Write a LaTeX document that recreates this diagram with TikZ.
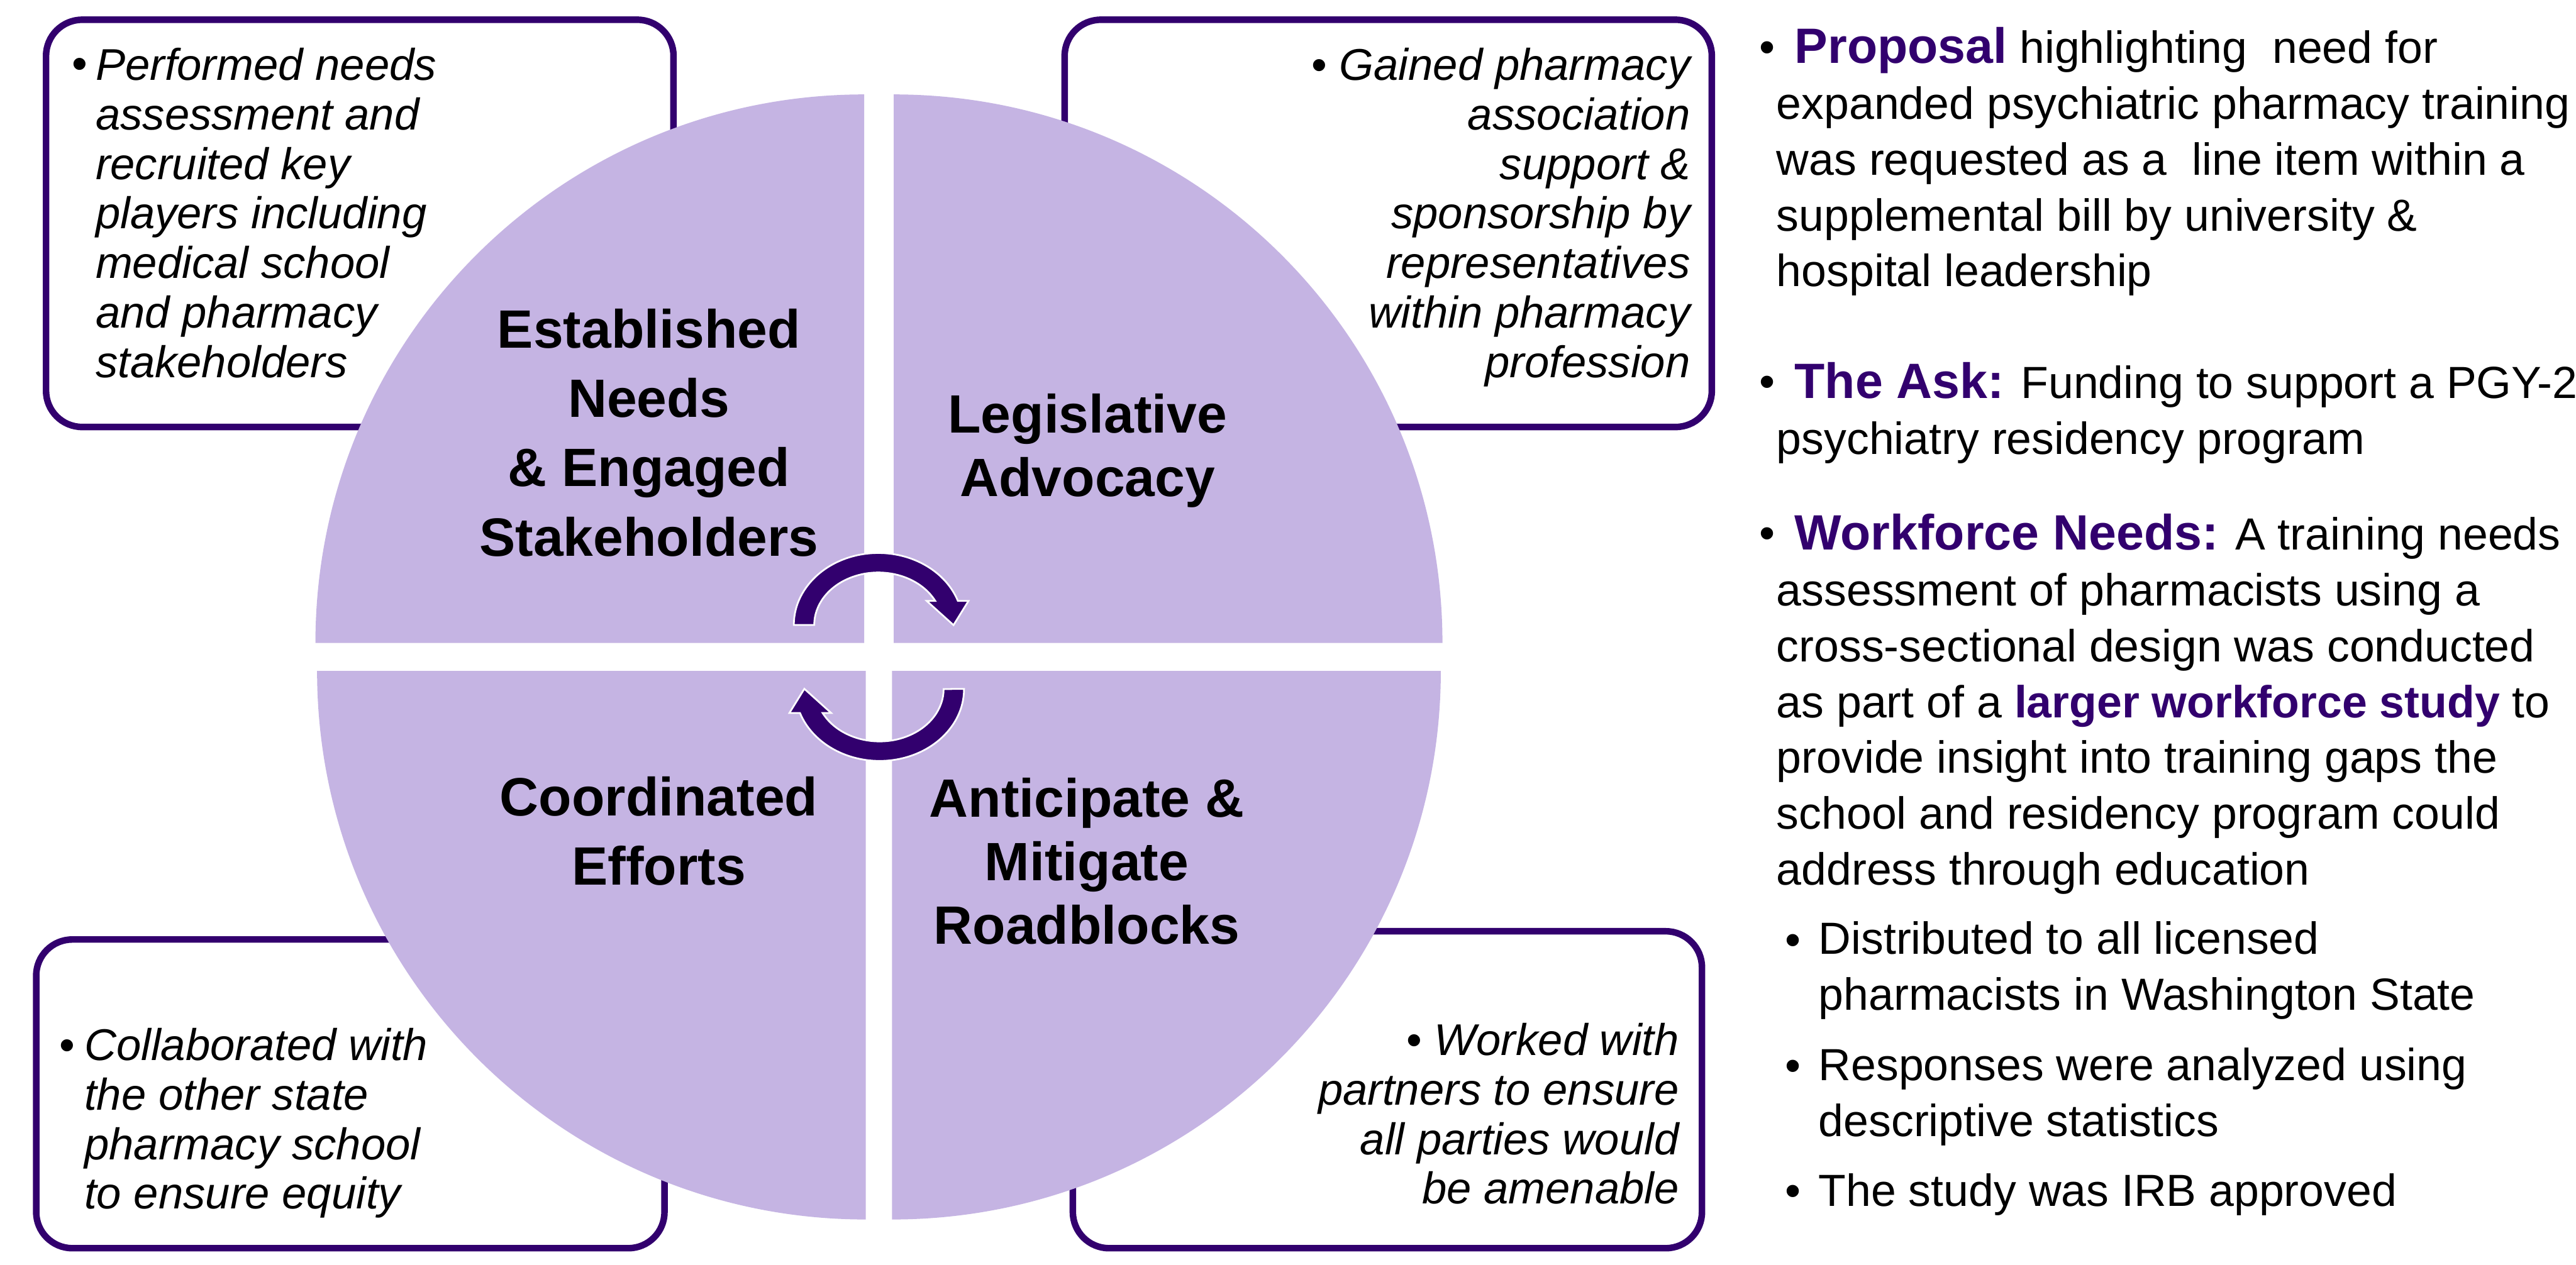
\documentclass[tikz,border=0pt]{standalone}
\usepackage{fontspec}
\setmainfont{Liberation Sans}
\definecolor{lavender}{HTML}{C5B4E3}
\definecolor{deeppurple}{HTML}{32006E}
% bold purple lead-in words of the right-hand notes
\newcommand{\leadword}[1]{\textcolor{deeppurple}{\fontsize{17.2}{19.3}\selectfont\bfseries #1}}
\newcommand{\keyphrase}[1]{\textcolor{deeppurple}{\bfseries #1}}
% keep line spacing fixed to the baselineskip
\newcommand{\tightlines}{\lineskiplimit=-30pt\relax\lineskip=0pt\relax}
\begin{document}
% multi-line nodes are placed by the baseline of their last line
\begin{tikzpicture}[x=0.02cm, y=-0.02cm,
  every node/.style={inner sep=0pt, outer sep=0pt},
  notebox/.style={draw=deeppurple, fill=white, line width=2.27pt, rounded corners=0.44cm},
  quadrant/.style={fill=lavender},
  cyclearrow/.style={fill=deeppurple, draw=white, line width=0.6pt, line join=miter},
  phase/.style={align=center, anchor=base, font=\fontsize{18.7}{24.04}\selectfont\bfseries\tightlines},
  phasetight/.style={phase, font=\fontsize{18.7}{21.94}\selectfont\bfseries\tightlines},
  notetext/.style={font=\fontsize{15.4}{17.15}\selectfont\itshape\tightlines},
  bodytext/.style={align=left, anchor=base west, font=\fontsize{15.6}{19.33}\selectfont\tightlines},
  dot/.style={anchor=base west, font=\fontsize{15.6}{19.33}\selectfont}
]
\useasboundingbox (0,0) rectangle (1568,770);
\fill[white] (0,0) rectangle (1568,770);

% note boxes behind the wheel
\node[notebox, minimum width=7.64cm, minimum height=4.96cm] (boxtl) at (219,136) {};
\node[notebox, minimum width=7.88cm, minimum height=4.96cm] (boxtr) at (845,136) {};
\node[notebox, minimum width=7.65cm, minimum height=3.76cm] (boxbl) at (213.25,666) {};
\node[notebox, minimum width=7.66cm, minimum height=3.86cm] (boxbr) at (844.5,663.5) {};

% the four quarters of the wheel
\fill[quadrant] (526,391.5) -- (192,391.5) arc[start angle=180, end angle=270, radius=334] -- cycle;
\fill[quadrant] (544,391.5) -- (544,57.5) arc[start angle=270, end angle=360, radius=334] -- cycle;
\fill[quadrant] (527,408.5) -- (527,742.5) arc[start angle=90, end angle=180, radius=334] -- cycle;
\fill[quadrant] (543,408.5) -- (877,408.5) arc[start angle=0, end angle=90, radius=334] -- cycle;

% quarter titles
\node[phase] (established) at (395,338.5) {Established\\Needs\\\& Engaged\\Stakeholders};
\node[phasetight] (legislative) at (662,302.3) {Legislative\\Advocacy};
\node[phase] (coordinated) at (401,538.9) {Coordinated\\Efforts};
\node[phasetight] (anticipate) at (661.5,574.7) {Anticipate \&\\Mitigate\\Roadblocks};

% circular arrows in the middle
\path[cyclearrow] (483.2,380.5)
  arc[start angle=180, end angle=340.5, x radius=51.4, y radius=43.8]
  -- (589.5,365.9) -- (580.4,380.6) -- (564.1,365.9) -- (569.3,365.9)
  arc[start angle=332.8, end angle=180, x radius=39, y radius=31.9]
  -- cycle;
\begin{scope}[rotate around={180:(535,400)}]
\path[cyclearrow] (483.2,380.5)
  arc[start angle=180, end angle=340.5, x radius=51.4, y radius=43.8]
  -- (589.5,365.9) -- (580.4,380.6) -- (564.1,365.9) -- (569.3,365.9)
  arc[start angle=332.8, end angle=180, x radius=39, y radius=31.9]
  -- cycle;
\end{scope}

% box notes
\node[notetext, anchor=base west] (tldot) at (44,48.2) {\upshape\textbullet};
\node[notetext, align=left, anchor=base west] (tltext) at (58.2,229.7)
  {Performed needs\\assessment and\\recruited key\\players including\\medical school\\and pharmacy\\stakeholders};
\node[notetext, align=right, anchor=base east] (trtext) at (1028.8,229.7)
  {{\upshape\textbullet}\ Gained pharmacy\\association\\support \&\\sponsorship by\\representatives\\within pharmacy\\profession};
\node[notetext, anchor=base west] (bldot) at (36,645.5) {\upshape\textbullet};
\node[notetext, align=left, anchor=base west] (bltext) at (51.4,736.1)
  {Collaborated with\\the other state\\pharmacy school\\to ensure equity};
\node[notetext, align=right, anchor=base east] (brtext) at (1022,733)
  {{\upshape\textbullet}\ Worked with\\partners to ensure\\all parties would\\be amenable};

% right-hand notes
\node[dot] (proposaldot) at (1071,38.1) {\textbullet};
\node[bodytext] (proposal) at (1081.4,174.5)
  {\hspace*{0.22cm}\leadword{Proposal} highlighting \ need for\\expanded psychiatric pharmacy training\\was requested as a \ line item within a\\supplemental bill by university \&\\hospital leadership};
\node[dot] (askdot) at (1071,241.8) {\textbullet};
\node[bodytext] (ask) at (1081.4,276.4)
  {\hspace*{0.22cm}\leadword{The Ask:} Funding to support a PGY-2\\psychiatry residency program};
\node[dot] (needsdot) at (1071,334.1) {\textbullet};
\node[bodytext] (needs) at (1081.4,538.7)
  {\hspace*{0.22cm}\leadword{Workforce Needs:} A training needs\\assessment of pharmacists using a\\cross-sectional design was conducted\\as part of a \keyphrase{larger workforce study} to\\provide insight into training gaps the\\school and residency program could\\address through education};
\node[dot] (distdot) at (1086.6,581.5) {\textbullet};
\node[bodytext] (dist) at (1107,615) {Distributed to all licensed\\pharmacists in Washington State};
\node[dot] (respdot) at (1086.6,658.3) {\textbullet};
\node[bodytext] (resp) at (1107,692) {Responses were analyzed using\\descriptive statistics};
\node[dot] (irbdot) at (1086.6,734.6) {\textbullet};
\node[bodytext] (irb) at (1107,734.6) {The study was IRB approved};
\end{tikzpicture}
\end{document}
